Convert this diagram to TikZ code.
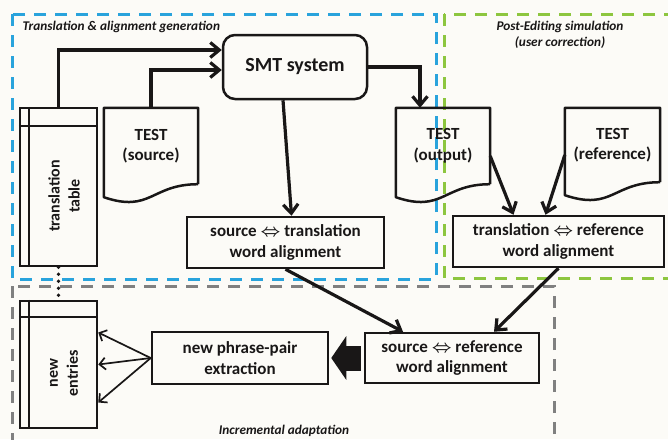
\documentclass[tikz,border=0pt]{standalone}
\usepackage{fontspec}
\setmainfont{Carlito}
\usepackage{tikz}
\usetikzlibrary{arrows.meta,positioning,calc}
\definecolor{pgblue}{RGB}{41,163,220}
\definecolor{pggreen}{RGB}{141,198,63}
\definecolor{pggray}{RGB}{128,128,128}
\definecolor{pgbg}{RGB}{252,251,247}
\definecolor{pgink}{RGB}{25,23,23}
\newcommand{\lr}{{\boldmath$\Leftrightarrow$}}
% document shape: flat top, wavy bottom below the node
\newcommand{\docoutline}[1]{%
  \draw[docline] (#1.south east) -- (#1.north east) -- (#1.north west) -- ([yshift=-13pt]#1.south west)
    .. controls ([yshift=-29pt]#1.south) and (#1.south) .. (#1.south east);}
% table shape: side strip and header row
\newcommand{\taboutline}[2]{%
  \draw[tabline] ([xshift=10pt]#1.north west) -- ([xshift=10pt]#1.south west);
  \draw[tabline] ([yshift=-#2]#1.north west) -- ([yshift=-#2]#1.north east);}

\begin{document}
\begin{tikzpicture}[
  x=1pt, y=-1pt,
  draw=pgink, text=pgink,
  box/.style={draw, rectangle, line width=2.5pt, align=center, inner sep=2pt, font=\fontsize{17}{20.5}\selectfont\bfseries},
  smtbox/.style={box, rounded corners=12pt, font=\fontsize{20}{24}\selectfont\bfseries},
  doc/.style={rectangle, minimum width=94pt, minimum height=76pt, align=center, font=\fontsize{17}{20.5}\selectfont\bfseries},
  docline/.style={line width=2.5pt, line join=round},
  tabbox/.style={draw, rectangle, line width=2.5pt, minimum width=77pt},
  tabline/.style={line width=2pt},
  tabtext/.style={rotate=90, align=center, font=\fontsize{16}{20}\selectfont\bfseries},
  grouptitle/.style={font=\fontsize{13.3}{15.5}\selectfont\bfseries\itshape, align=center},
  arrline/.style={line width=3.2pt, -{Straight Barb[length=9pt,width=15pt]}},
  thinarr/.style={line width=1.7pt, -{Straight Barb[length=6pt,width=12pt]}},
  blockarr/.style={line width=25pt, -{Triangle[length=15pt,width=43pt]}, shorten <=3pt, shorten >=2pt},
  dotline/.style={line width=3.6pt, dash pattern=on 0pt off 7pt, line cap=round},
  grpdash/.style={line width=3pt, dash pattern=on 12pt off 9pt},
]
\useasboundingbox (0,0) rectangle (668,439);
\fill[pgbg] (0,0) rectangle (668,439);
\clip (0,0) rectangle (668,439);

% groups
\draw[grpdash, pgblue] (12,14) rectangle (436,279);
\draw[grpdash, pggreen] (444,14) rectangle (674,278);
\draw[grpdash, pggray] (12,286) rectangle (554,446);
\node[grouptitle, anchor=west] (ttrans) at (19,27) {Translation \& alignment generation};
\node[grouptitle] (tpost) at (560,35) {Post-Editing simulation\\(user correction)};
\node[grouptitle] (tincr) at (284,431) {Incremental adaptation};

% boxes
\node[smtbox, minimum width=144pt, minimum height=64pt] (smt) at (295,67) {SMT system};
\node[box, minimum width=197pt, minimum height=51pt] (srctr) at (285.5,242.5) {source \lr{} translation\\word alignment};
\node[box, minimum width=211pt, minimum height=51pt] (trnref) at (558.5,241.5) {translation \lr{} reference\\word alignment};
\node[box, minimum width=174pt, minimum height=50pt] (srcref) at (452,358) {source \lr{} reference\\word alignment};
\node[box, minimum width=176pt, minimum height=52pt] (npp) at (240,358) {new phrase-pair\\extraction};

% documents
\node[doc] (tsrc) at (151,146) {TEST\\(source)};
\node[doc] (tout) at (443,146) {TEST\\(output)};
\node[doc, minimum width=95pt, minimum height=74pt] (tref) at (612.5,145) {TEST\\(reference)};
\docoutline{tsrc}
\docoutline{tout}
\docoutline{tref}

% tables
\node[tabbox, minimum height=158pt] (ttab) at (58.5,187) {};
\taboutline{ttab}{19pt}
\node[tabtext] (ttabtxt) at (64,196) {translation\\table};
\node[tabbox, minimum height=127pt] (newent) at (58.5,364.5) {};
\taboutline{newent}{17pt}
\node[tabtext] (newenttxt) at (64,373) {new\\entries};

% connectors
\draw[arrline] (ttab.north) |- ([yshift=17pt]smt.west);
\draw[arrline] (tsrc.north) |- ([yshift=-3pt]smt.west);
\draw[arrline] (smt.east) -| ([xshift=-23pt]tout.north);
\draw[arrline] ([xshift=-12pt]smt.south) -- ([xshift=6pt]srctr.north);
\draw[arrline] ([yshift=-10pt]tout.east) -- ([xshift=-45pt]trnref.north);
\draw[arrline] ([yshift=-10pt]tref.west) -- ([xshift=-13pt]trnref.north);
\draw[arrline] (srctr.south) -- ([xshift=-49pt]srcref.north);
\draw[arrline] (trnref.south) -- ([xshift=42pt]srcref.north);
\draw[blockarr] (srcref.west) -- (npp.east);
\draw[thinarr] (npp.west) -- ([yshift=32pt]newent.east);
\draw[thinarr] (npp.west) -- (newent.east);
\draw[thinarr] (npp.west) -- ([yshift=-38pt]newent.east);
\draw[dotline] (ttab.south) -- (newent.north);
\end{tikzpicture}
\end{document}
